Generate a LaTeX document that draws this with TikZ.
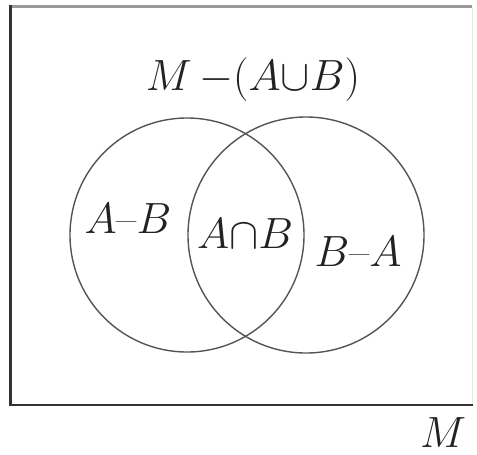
\documentclass[tikz,border=0pt]{standalone}
\usepackage{xcolor}
\usetikzlibrary{positioning}
\definecolor{frameline}{HTML}{333333}
\definecolor{framegray}{HTML}{9A9A9A}
\definecolor{framefaint}{HTML}{E8E8E8}
\definecolor{setline}{HTML}{555555}
\definecolor{lbl}{HTML}{222222}

\begin{document}
\begin{tikzpicture}[
    every node/.style={font=\Huge, text=lbl, inner sep=1pt},
    setcirc/.style={line width=0.8pt, color=setline},
    edge/.style={line width=1.6pt, color=frameline, line cap=rect}
  ]
  \fill[white] (0,0) rectangle (9.54,9.08);
  \useasboundingbox (0,0) rectangle (9.54,9.08);

  % ---- frame M -----------------------------------------------------------
  \coordinate (bl) at (0.21,0.98);
  \coordinate (br) at (9.44,0.98);
  \coordinate (tl) at (0.21,8.95);
  \coordinate (tr) at (9.44,8.95);
  \draw[line width=1.4pt, color=framegray] (tl) -- (tr);
  \draw[line width=0.5pt, color=framefaint] (tr) -- (br);
  \draw[edge] (tl) -- (bl) -- (br);

  % ---- the two sets ------------------------------------------------------
  \coordinate (ca) at (3.74,4.38);
  \coordinate (cb) at (6.12,4.38);
  \draw[setcirc] (ca) circle[radius=2.34];
  \draw[setcirc] (cb) circle[radius=2.36];

  % ---- region labels -----------------------------------------------------
  \node (rest) at (5.06,7.48) {$M\,{-}(A{\cup}B)$};
  \node (amb)  at (2.56,4.70) {$A$--$B$};
  \node (anb)  at (4.90,4.40) {$A{\cap}B$};
  \node (bma)  at (7.16,4.04) {$B$--$A$};
  \node[anchor=base] (mlab) at (8.86,0.14) {$M$};

\end{tikzpicture}
\end{document}
